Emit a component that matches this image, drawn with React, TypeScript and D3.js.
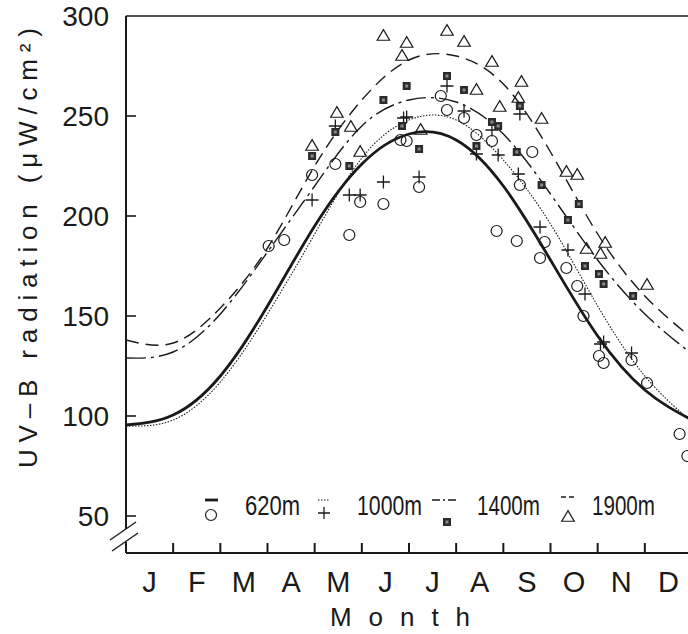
import React from 'react';
import * as d3 from 'd3';

// ---------- data ----------
const monthLabels = ['J', 'F', 'M', 'A', 'M', 'J', 'J', 'A', 'S', 'O', 'N', 'D'];
const yTicks = [50, 100, 150, 200, 250, 300];

// fitted curves sampled at month boundaries (0 = 1 Jan, 12 = 31 Dec)
const fitMonths = [0, 1, 2, 3, 4, 5, 6, 7, 8, 9, 10, 11, 12];
const fit620 = [95.5, 100.5, 120, 155, 195, 226, 241, 238, 215, 178, 140, 113, 98];
const fit1000 = [95, 98, 117, 151, 191, 229, 248, 248, 228, 196, 155, 120, 97];
const fit1400 = [129, 132, 151, 182, 215, 245, 258, 257, 241, 211, 178, 151, 131];
const fit1900 = [138, 136.5, 154, 184, 225, 258, 278, 280, 266, 232, 191, 160, 139];

// observations: day of year and value
const day620 = [92, 102, 120, 135, 144, 151, 166, 177, 181, 189, 203, 207, 218, 226, 236, 239, 252, 254, 262, 267, 270, 284, 291, 295, 305, 308, 326, 336, 357, 362];
const obs620 = [185, 188, 220.5, 226, 190.5, 207, 206, 238, 237.5, 214.5, 260, 253, 249, 240.5, 237.5, 192.5, 187.5, 215.5, 232, 179, 187, 174, 165, 150, 130, 126.5, 128, 116.5, 91, 80];

const day1000 = [120, 135, 144, 151, 166, 179, 181, 189, 207, 218, 226, 236, 240, 253, 254, 267, 285, 296, 306, 308, 326];
const obs1000 = [208, 245, 210.5, 210.5, 217, 249, 249.5, 219.5, 265, 252.5, 231, 243, 230.5, 221, 251, 194.5, 183, 161, 136, 137, 131.5];

const day1400 = [120, 135, 144, 166, 178, 181, 189, 207, 218, 226, 236, 240, 252, 254, 268, 285, 292, 296, 305, 308, 327];
const obs1400 = [230, 242, 225, 258, 245, 265, 233.5, 270, 263, 235, 247, 245, 232, 255, 215.5, 198, 206, 175, 171, 166, 160];

const day1900 = [120, 136, 145, 151, 166, 178, 181, 190, 207, 218, 226, 236, 241, 255, 253, 268, 284, 291, 297, 306, 309, 336];
const obs1900 = [235, 251.5, 244.5, 232, 290, 280, 286.5, 243, 292.5, 287, 263, 277, 254.5, 267, 259, 248.5, 222, 220.5, 183.5, 181, 186.5, 165.5];

const legendLabels = ['620m', '1000m', '1400m', '1900m'];

// ---------- layout ----------
const W = 688;
const H = 634;
const x0 = 126;
const xEnd = 692;
const yTop = 16;
const yBase = 553;

const ink = '#1a1a1a';
const font = '"Liberation Sans", Arial, sans-serif';

export default function App() {
  const x = d3.scaleLinear().domain([0, 365]).range([x0, xEnd]);
  const y = d3.scaleLinear().domain([50, 300]).range([516, 16]);
  const xm = (m: number) => x((m * 365) / 12);

  const line = d3
    .line<[number, number]>()
    .x((d) => xm(d[0]))
    .y((d) => y(d[1]))
    .curve(d3.curveNatural);

  const pts = (vals: number[]) => fitMonths.map((m, i) => [m, vals[i]] as [number, number]);

  const tri = (cx: number, cy: number, s = 12.5) => {
    const h = s * 0.85;
    return `M${cx},${cy - h * 0.6}L${cx + s / 2},${cy + h * 0.4}L${cx - s / 2},${cy + h * 0.4}Z`;
  };
  const plus = (cx: number, cy: number, s = 6.5) =>
    `M${cx - s},${cy}H${cx + s}M${cx},${cy - s}V${cy + s}`;

  const Square = ({ cx, cy }: { cx: number; cy: number }) => (
    <g>
      <rect x={cx - 4} y={cy - 4} width={8} height={8} fill="#2b2b2b" />
      <rect x={cx - 1.5} y={cy - 1.5} width={3} height={3} fill="#8a8a8a" />
    </g>
  );

  const monthW = (xEnd - x0) / 12;

  return (
    <svg
      width={W}
      height={H}
      style={{ position: 'absolute', left: 0, top: 0, background: '#fff' }}
      fontFamily={font}
    >
      <rect x={0} y={0} width={W} height={H} fill="#fff" />
      <defs>
        <clipPath id="plot">
          <rect x={x0} y={yTop} width={xEnd - x0} height={yBase - yTop} />
        </clipPath>
      </defs>

      {/* frame */}
      <line x1={x0} x2={W} y1={yTop} y2={yTop} stroke={ink} strokeWidth={1.6} />
      <line x1={x0} x2={W} y1={yBase} y2={yBase} stroke={ink} strokeWidth={1.8} />
      <line x1={x0} x2={x0} y1={yTop} y2={529} stroke={ink} strokeWidth={2} />
      <line x1={x0} x2={x0} y1={542} y2={yBase} stroke={ink} strokeWidth={2} />
      {/* axis break */}
      <line x1={110} y1={540} x2={136} y2={522} stroke={ink} strokeWidth={1.4} />
      <line x1={112} y1={551} x2={138} y2={533} stroke={ink} strokeWidth={1.4} />

      {/* y ticks */}
      {yTicks.map((t) => (
        <g key={t}>
          {t < 300 && <line x1={x0} x2={x0 + 10} y1={y(t)} y2={y(t)} stroke={ink} strokeWidth={1.6} />}
          <text x={109} y={y(t) + 10} fontSize={28} textAnchor="end" fill={ink}>
            {t}
          </text>
        </g>
      ))}

      {/* x ticks at month boundaries */}
      {d3.range(1, 13).map((m) => (
        <line key={m} x1={xm(m)} x2={xm(m)} y1={yBase} y2={yBase - 10} stroke={ink} strokeWidth={2} />
      ))}
      {monthLabels.map((lab, i) => (
        <text key={i} x={x0 + monthW * (i + 0.5)} y={592} fontSize={29} textAnchor="middle" fill={ink}>
          {lab}
        </text>
      ))}

      {/* axis titles */}
      <text
        x={400}
        y={626}
        fontSize={26}
        textAnchor="middle"
        textLength={140}
        lengthAdjust="spacing"
        fill={ink}
      >
        Month
      </text>
      <text
        transform="translate(37,248) rotate(-90)"
        x={0}
        y={0}
        fontSize={26}
        textAnchor="middle"
        textLength={440}
        lengthAdjust="spacing"
        fill={ink}
      >
        UV–B radiation (μW/cm²)
      </text>

      {/* curves */}
      <g clipPath="url(#plot)" fill="none">
        <path d={line(pts(fit1900)) || ''} stroke={ink} strokeWidth={1.4} strokeDasharray="13,7" />
        <path d={line(pts(fit1400)) || ''} stroke={ink} strokeWidth={1.4} strokeDasharray="20,5,3,5" />
        <path d={line(pts(fit1000)) || ''} stroke={ink} strokeWidth={1.1} strokeDasharray="1.5,1.5" />
        <path d={line(pts(fit620)) || ''} stroke={ink} strokeWidth={2.8} />
      </g>

      {/* observations */}
      <g>
        {day620.map((d, i) => (
          <circle key={'c' + i} cx={x(d)} cy={y(obs620[i])} r={5.5} fill="none" stroke={ink} strokeWidth={1.2} />
        ))}
        {day1000.map((d, i) => (
          <path key={'p' + i} d={plus(x(d), y(obs1000[i]))} stroke={ink} strokeWidth={1.3} fill="none" />
        ))}
        {day1400.map((d, i) => (
          <Square key={'s' + i} cx={x(d)} cy={y(obs1400[i])} />
        ))}
        {day1900.map((d, i) => (
          <path key={'t' + i} d={tri(x(d), y(obs1900[i]))} stroke={ink} strokeWidth={1.2} fill="none" />
        ))}
      </g>

      {/* legend */}
      <g>
        <line x1={205} x2={218} y1={500} y2={500} stroke={ink} strokeWidth={2.8} />
        <circle cx={211} cy={515} r={5.5} fill="none" stroke={ink} strokeWidth={1.2} />
        <text x={245} y={515} fontSize={28} textLength={55} lengthAdjust="spacingAndGlyphs" fill={ink}>
          {legendLabels[0]}
        </text>

        <line x1={318} x2={329} y1={500} y2={500} stroke={ink} strokeWidth={1.1} strokeDasharray="1.5,1.5" />
        <path d={plus(324, 513, 6)} stroke={ink} strokeWidth={1.3} fill="none" />
        <text x={357} y={515} fontSize={28} textLength={65} lengthAdjust="spacingAndGlyphs" fill={ink}>
          {legendLabels[1]}
        </text>

        <line x1={432} x2={457} y1={500} y2={500} stroke={ink} strokeWidth={1.4} strokeDasharray="8,3,2,3" />
        <Square cx={447} cy={522} />
        <text x={477} y={515} fontSize={28} textLength={63} lengthAdjust="spacingAndGlyphs" fill={ink}>
          {legendLabels[2]}
        </text>

        <line x1={561} x2={574} y1={497} y2={497} stroke={ink} strokeWidth={1.4} strokeDasharray="5,3" />
        <path d={tri(568, 517)} stroke={ink} strokeWidth={1.2} fill="none" />
        <text x={592} y={515} fontSize={28} textLength={63} lengthAdjust="spacingAndGlyphs" fill={ink}>
          {legendLabels[3]}
        </text>
      </g>
    </svg>
  );
}
